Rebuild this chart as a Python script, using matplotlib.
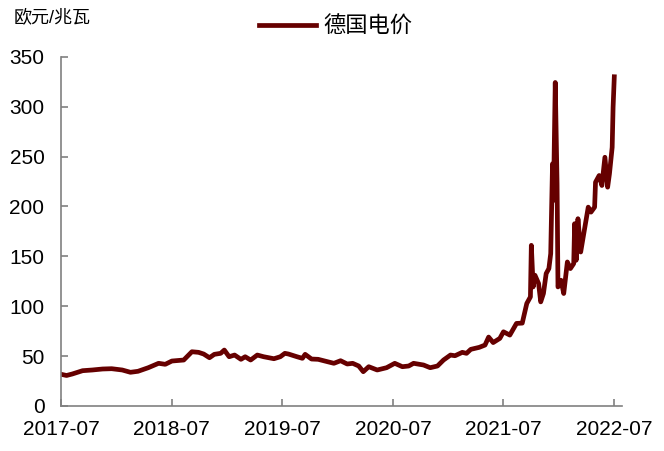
import pandas as pd
import matplotlib
matplotlib.use("Agg")
import matplotlib.pyplot as plt
import matplotlib.dates as mdates

plt.rcParams['font.family'] = ['Liberation Sans', 'Noto Sans CJK SC']

# 德国电价 (欧元/兆瓦)
dates = [
    "2017-07-01", "2017-07-19", "2017-08-07", "2017-09-10", "2017-10-12", "2017-11-15",
    "2017-12-15", "2018-01-19", "2018-02-15", "2018-03-12", "2018-04-15", "2018-05-19",
    "2018-06-10", "2018-07-02", "2018-08-10", "2018-09-06", "2018-09-28", "2018-10-15",
    "2018-11-03", "2018-11-19", "2018-12-10", "2018-12-22", "2019-01-07", "2019-01-25",
    "2019-02-15", "2019-03-01", "2019-03-19", "2019-04-10", "2019-05-01", "2019-06-04",
    "2019-06-25", "2019-07-10", "2019-07-22", "2019-08-19", "2019-09-06", "2019-09-15",
    "2019-10-06", "2019-10-28", "2019-11-28", "2019-12-19", "2020-01-10", "2020-02-01",
    "2020-02-19", "2020-03-10", "2020-03-25", "2020-04-12", "2020-05-10", "2020-06-10",
    "2020-07-07", "2020-08-01", "2020-08-22", "2020-09-07", "2020-10-10", "2020-11-01",
    "2020-11-25", "2020-12-15", "2021-01-07", "2021-01-22", "2021-02-15", "2021-03-01",
    "2021-03-15", "2021-04-12", "2021-05-01", "2021-05-13", "2021-05-28", "2021-06-19",
    "2021-07-01", "2021-07-22", "2021-08-13", "2021-09-01", "2021-09-16", "2021-09-28",
    "2021-10-01", "2021-10-07", "2021-10-13", "2021-10-25", "2021-11-01", "2021-11-10",
    "2021-11-19", "2021-11-28", "2021-12-04", "2021-12-10", "2021-12-13", "2021-12-19",
    "2021-12-25", "2021-12-28", "2022-01-07", "2022-01-16", "2022-01-28", "2022-02-07",
    "2022-02-18", "2022-02-21", "2022-02-26", "2022-03-04", "2022-03-13", "2022-03-25",
    "2022-04-07", "2022-04-16", "2022-04-28", "2022-05-01", "2022-05-13", "2022-05-22",
    "2022-06-01", "2022-06-10", "2022-06-16", "2022-06-25", "2022-06-28", "2022-07-02",
]
price = [
    31.7, 30.5, 32.0, 35.3, 36.0, 37.0,
    37.3, 36.0, 33.7, 34.7, 38.3, 42.7,
    41.7, 45.0, 46.0, 54.3, 53.7, 52.0,
    48.3, 51.7, 52.7, 56.0, 49.3, 51.0,
    46.7, 49.3, 46.0, 51.0, 49.3, 47.3,
    49.3, 52.7, 52.0, 49.3, 47.7, 51.7,
    47.0, 46.7, 44.3, 42.7, 45.3, 42.0,
    42.7, 40.0, 34.3, 39.3, 36.0, 38.3,
    42.7, 39.3, 40.0, 42.7, 41.0, 38.3,
    40.0, 46.0, 51.0, 50.3, 53.7, 52.7,
    56.7, 58.7, 61.0, 69.0, 63.5, 67.7,
    74.3, 71.0, 82.7, 83.0, 102.7, 109.3,
    161.0, 119.3, 131.0, 122.7, 104.3, 112.7,
    132.7, 137.7, 152.7, 242.7, 206.0, 324.3,
    222.7, 119.3, 126.0, 112.7, 144.3, 137.7,
    142.7, 182.7, 146.0, 187.7, 154.3, 176.0,
    199.3, 194.3, 199.3, 224.3, 231.0, 221.0,
    249.3, 219.3, 232.7, 259.3, 299.3, 330.0,
]
x_ticks = ["2017-07", "2018-07", "2019-07", "2020-07", "2021-07", "2022-07"]

df = pd.DataFrame({"date": pd.to_datetime(dates), "price": price})

fig = plt.figure(figsize=(6.64, 4.51), dpi=100)
ax = fig.add_axes([0.092, 0.100, 0.845, 0.774])

ax.plot(df["date"], df["price"], color="#660000", lw=3.4, label="德国电价",
        solid_joinstyle="round")

ax.set_ylim(0, 350)
ax.set_yticks(range(0, 351, 50))
ax.set_xlim(pd.Timestamp("2017-07-01"), pd.Timestamp("2022-07-28"))
ax.set_xticks(pd.to_datetime([t + "-01" for t in x_ticks]))
ax.xaxis.set_major_formatter(mdates.DateFormatter("%Y-%m"))

for s in ["top", "right"]:
    ax.spines[s].set_visible(False)
for s in ["left", "bottom"]:
    ax.spines[s].set_color("#808080")
    ax.spines[s].set_linewidth(1.2)
ax.tick_params(axis="both", direction="in", length=5, width=1.2, color="#808080",
               labelsize=15)
ax.tick_params(axis="y", pad=12)
ax.tick_params(axis="x", pad=10)

fig.text(0.021, 0.96, "欧元/兆瓦", fontsize=13, va="center", ha="left")
fig.legend(loc="center", bbox_to_anchor=(0.505, 0.94), frameon=False, fontsize=16,
           handlelength=2.6, handletextpad=0.3)

fig.savefig("out.png", dpi=100)
